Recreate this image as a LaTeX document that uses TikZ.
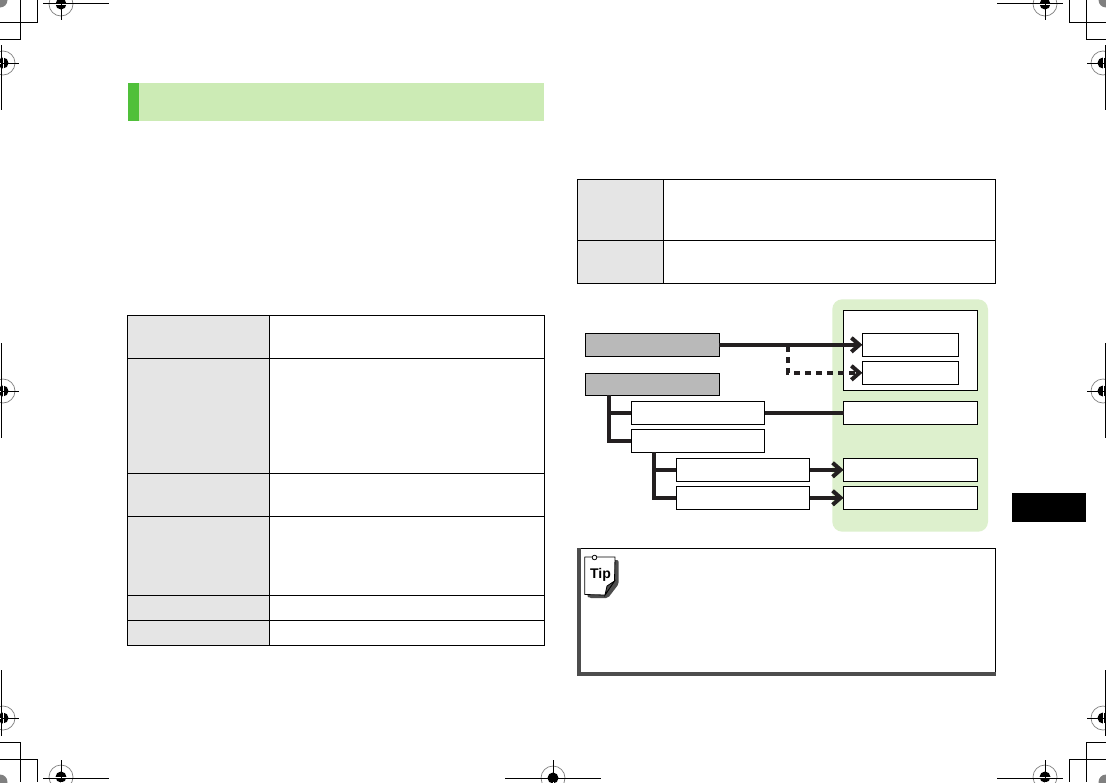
\documentclass[tikz,border=0pt]{standalone}
\usepackage{fontspec}
\setmainfont{Liberation Sans}
\usetikzlibrary{arrows.meta}
\definecolor{panelgreen}{HTML}{DDF0CD}
\definecolor{bannergreen}{HTML}{CCEBB5}
\definecolor{stripgreen}{HTML}{50C03A}
\definecolor{cellgray}{HTML}{E5E5E5}
\definecolor{boxgray}{HTML}{B9B9B9}
\definecolor{tipgray}{HTML}{4D4D4D}
\definecolor{linkblack}{HTML}{231F20}
\tikzset{
  x=1pt,y=-1pt,
  crop/.style={line width=1pt,black},
  tablebox/.style={draw=black,line width=0.9pt},
  flowbox/.style={draw=black,line width=0.9pt,fill=white,minimum width=133.6pt,minimum height=23pt,inner sep=0pt,outer sep=0pt,anchor=north west},
  grayflow/.style={flowbox,fill=boxgray},
  smallbox/.style={flowbox,minimum width=96pt},
  link/.style={draw=linkblack,line width=4.3pt},
  arrowlink/.style={link,-{Straight Barb[length=8pt,width=14pt,line width=4pt]}},
  dotlink/.style={arrowlink,dash pattern=on 5.5pt off 5.5pt},
}
\begin{document}
\begin{tikzpicture}
\useasboundingbox (0,0) rectangle (1106,782);
\fill[white] (0,0) rectangle (1106,782);
% crop marks
\begin{scope}
\clip (0,0) rectangle (1106,782);
\foreach \cx/\cy in {61/4,1045/4,3/63,1103/63,3/391,1103/391,3/718,1103/718,61/777,553/778,1045/777}{
  \draw[gray,line width=0.7pt] (\cx,\cy) circle[radius=12];
  \fill[black] (\cx,\cy) circle[radius=5.5];
}
\draw[crop,white] (61,-2) -- (61,10) (55,4) -- (67,4) (1045,-2) -- (1045,10) (1039,4) -- (1051,4)
  (3,57) -- (3,69) (-3,63) -- (9,63) (1103,57) -- (1103,69) (1097,63) -- (1109,63)
  (3,385) -- (3,397) (-3,391) -- (9,391) (1103,385) -- (1103,397) (1097,391) -- (1109,391)
  (3,712) -- (3,724) (-3,718) -- (9,718) (1103,712) -- (1103,724) (1097,718) -- (1109,718)
  (61,771) -- (61,783) (55,777) -- (67,777) (553,772) -- (553,784) (547,778) -- (559,778) (1045,771) -- (1045,783) (1039,777) -- (1051,777);
\draw[crop] (43,3.5) -- (109,3.5) (61,0) -- (61,20);
\draw[crop] (997,3.5) -- (1063,3.5) (1045,0) -- (1045,20);
\draw[crop] (1.3,45) -- (1.3,110) (1.3,63) -- (19,63);
\draw[crop] (1105.3,45) -- (1105.3,110) (1087,63) -- (1105.3,63);
\draw[crop] (1.3,343) -- (1.3,438) (1.3,391) -- (19,391);
\draw[crop] (1105.3,343) -- (1105.3,438) (1087,391) -- (1105.3,391);
\draw[crop] (1.3,670) -- (1.3,736) (1.3,718) -- (19,718);
\draw[crop] (1105.3,670) -- (1105.3,736) (1087,718) -- (1105.3,718);
\draw[crop] (43,778) -- (109,778) (61,760) -- (61,782);
\draw[crop] (505,778) -- (601,778) (553,760) -- (553,782);
\draw[crop] (997,778) -- (1063,778) (1045,760) -- (1045,782);
\draw[crop] (0,22.5) -- (37.5,22.5) -- (37.5,0) (0,39.5) -- (20.5,39.5) -- (20.5,0);
\draw[crop] (1106,22.5) -- (1069.5,22.5) -- (1069.5,0) (1106,39.5) -- (1086.5,39.5) -- (1086.5,0);
\draw[crop] (0,759.5) -- (37.5,759.5) -- (37.5,782) (0,742.5) -- (20.5,742.5) -- (20.5,782);
\draw[crop] (1106,759.5) -- (1069.5,759.5) -- (1069.5,782) (1106,742.5) -- (1086.5,742.5) -- (1086.5,782);
\foreach \cx/\cy in {0/0,1106/0,0/782,1106/782}{
  \fill[gray] (\cx,\cy) circle[radius=7.5];
}
\end{scope}
% banner
\fill[bannergreen] (128,83) rectangle (544,121);
\fill[stripgreen] (128,83) rectangle (139,121);
% left table
\fill[cellgray] (127.5,315) rectangle (269,645);
\draw[tablebox] (127.5,315) rectangle (544,645);
\draw[tablebox] (269,315) -- (269,645);
\foreach \yy in {358,473,516,595,620}{\draw[tablebox] (127.5,\yy) -- (544,\yy);}
% right table
\fill[cellgray] (577.7,179.5) rectangle (663.5,283);
\draw[tablebox] (577.7,179.5) rectangle (995.6,283);
\draw[tablebox] (663.5,179.5) -- (663.5,283);
\draw[tablebox] (577.7,240) -- (995.6,240);
% flow panel
\fill[panelgreen,rounded corners=10pt] (832.3,299.3) rectangle (988,531.7);
\node[flowbox,minimum height=80pt] (group) at (843.6,310.3) {};
\node[smallbox] (r1) at (862.4,333.3) {};
\node[smallbox] (r2) at (862.4,361.3) {};
\node[grayflow] (g1) at (585.4,333.3) {};
\node[grayflow,minimum height=22pt] (g2) at (585.4,373.3) {};
\node[flowbox] (a) at (631.2,401.3) {};
\node[flowbox] (b) at (631.2,429.3) {};
\node[flowbox] (c) at (676.2,458.3) {};
\node[flowbox] (d) at (676.2,486.3) {};
\node[flowbox] (ra) at (843.6,401.3) {};
\node[flowbox] (rc) at (843.6,458.3) {};
\node[flowbox] (rd) at (843.6,486.3) {};
\coordinate (split) at (788,346);
\coordinate (g2out) at ([xshift=-43.2pt]g2.south);
\coordinate (bout) at ([xshift=-44.0pt]b.south);
\draw[arrowlink] (g1.east) -- (r1.west);
\draw[dotlink] (split) |- (r2.west);
\draw[link] (a.east) -- (ra.west);
\draw[link] (g2out) |- (a.west);
\draw[link] (g2out) |- (b.west);
\draw[link] (bout) |- (c.west);
\draw[link] (bout) |- (d.west);
\draw[arrowlink] (c.east) -- (rc.west);
\draw[arrowlink] (d.east) -- (rd.west);
% tip box
\draw[black,line width=1.1pt] (577,548.3) -- (995.3,548.3) -- (995.3,673);
\fill[tipgray] (576.5,548) rectangle (580.5,676);
\fill[tipgray] (576.5,672) rectangle (995.9,676);
% tip icon
\fill[tipgray,rounded corners=2pt] (587,560) -- (618.7,560) -- (618.7,584) -- (608,598) -- (589,598) -- (587,596) -- cycle;
\draw[black,fill=white,line width=0.8pt,line join=round] (584.7,557) -- (615,557) -- (614.5,581) -- (605,595) -- (584.7,594.5) -- cycle;
\draw[black,line width=0.8pt,fill=white] (594.5,557.5) circle[radius=2.3];
\draw[black,line width=0.8pt,fill=tipgray] (605,595) -- (607,586) -- (614.5,581) -- cycle;
\node[inner sep=0pt,font=\bfseries\fontsize{14}{14}\selectfont] (tip) at (600.5,574.5) {Tip};
% side tab
\fill[black] (1012,493) rectangle (1086,522);
\end{tikzpicture}
\end{document}
